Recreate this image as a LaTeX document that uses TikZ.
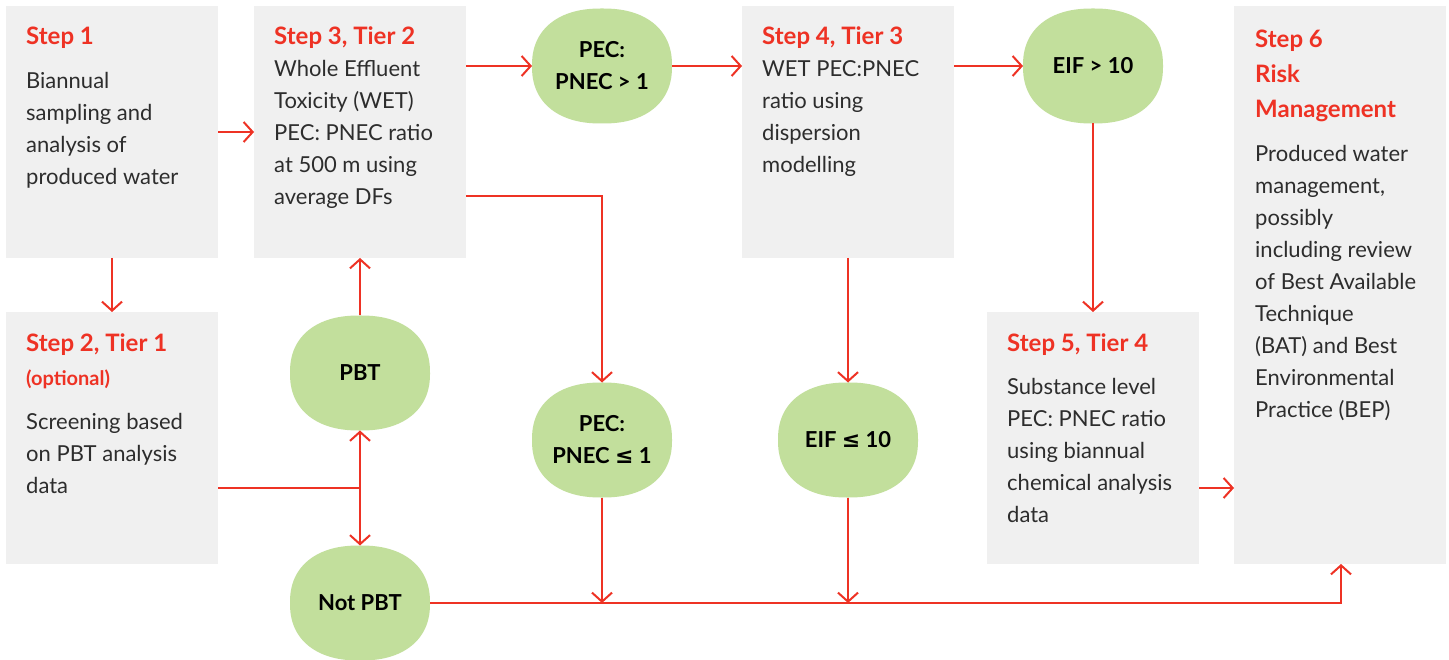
\documentclass[tikz,border=0pt]{standalone}
\usepackage{fontspec}
\setmainfont{Lato}
\newfontfamily\symf{DejaVu Sans}
\usetikzlibrary{arrows.meta}
\definecolor{rd}{RGB}{238,50,36}
\definecolor{boxg}{RGB}{240,240,240}
\definecolor{grn}{RGB}{194,223,156}
\definecolor{txt}{RGB}{45,45,45}
\newcommand{\stt}[1]{{\color{rd}\fontsize{24}{32}\selectfont\bfseries #1}}
\newcommand{\ovalnode}[4]{%
  \fill[grn, shift={(#2,#3)}] plot[domain=0.5:360.5, samples=145, smooth cycle]
    ({(cos(\x)<0 ? -70 : 70)*pow(abs(cos(\x)),0.87)}, {(sin(\x)<0 ? -57.5 : 57.5)*pow(abs(sin(\x)),0.87)});
  \node[oval] (#1) at (#2,#3) {#4};}
\begin{document}
\begin{tikzpicture}[x=1pt,y=-1pt,
  stepbox/.style={fill=boxg, draw=none, minimum width=212pt, minimum height=252pt, inner sep=0pt, outer sep=0pt},
  oval/.style={draw=none, minimum width=140pt, minimum height=115pt, inner sep=0pt, outer sep=0pt,
    align=center, font=\fontsize{22}{32}\selectfont\bfseries, text=black},
  body/.style={anchor=north west, inner sep=0pt, align=left, text=txt, font=\fontsize{22}{32}\selectfont},
  conn/.style={draw=rd, line width=2pt, -{Straight Barb[length=9pt,width=20pt]}},
  plainline/.style={draw=rd, line width=2pt}
]
\fill[white] (0,0) rectangle (1449,660);
\useasboundingbox (0,0) rectangle (1449,660);

% boxes
\node[stepbox] (s1) at (112,132) {};
\node[stepbox] (s2) at (112,438) {};
\node[stepbox] (s3) at (360,132) {};
\node[stepbox] (s4) at (848,132) {};
\node[stepbox] (s5) at (1093,438) {};
\node[stepbox, minimum height=558pt] (s6) at (1340,285) {};

% texts
\node[body] (t1) at (26,27) {\stt{Step 1}\\[12pt] Biannual\\ sampling and\\ analysis of\\ produced water};
\node[body] (t2) at (26,334) {\stt{Step 2, Tier 1}\\[2pt] {\color{rd}\fontsize{20}{22}\selectfont\bfseries (optional)}\\[12pt] Screening based\\ on PBT analysis\\ data};
\node[body] (t3) at (274,27) {\stt{Step 3, Tier 2}\\ Whole Effluent\\ Toxicity (WET)\\ PEC: PNEC ratio\\ at 500 m using\\ average DFs};
\node[body] (t4) at (762,27) {\stt{Step 4, Tier 3}\\ WET PEC:PNEC\\ ratio using\\ dispersion\\ modelling};
\node[body] (t5) at (1007,334) {\stt{Step 5, Tier 4}\\[11pt] Substance level\\ PEC: PNEC ratio\\ using biannual\\ chemical analysis\\ data};
\node[body] (t6) at (1255,30) {\stt{Step 6}\\[3pt] \stt{Risk}\\[3pt] \stt{Management}\\[12pt] Produced water\\ management,\\ possibly\\ including review\\ of Best Available\\ Technique\\ (BAT) and Best\\ Environmental\\ Practice (BEP)};

% ovals
\ovalnode{p1}{602}{66}{PEC:\\ PNEC > 1}
\ovalnode{p2}{602}{440}{PEC:\\ PNEC {\symf\bfseries ≤} 1}
\ovalnode{pbt}{360}{373}{PBT}
\ovalnode{npbt}{360}{603}{Not PBT}
\ovalnode{e1}{1093}{66}{EIF > 10}
\ovalnode{e2}{848}{440}{EIF {\symf\bfseries ≤} 10}

% connectors
\draw[conn] (s1.south) -- (s2.north);
\draw[conn] (s1.east) -- (s3.west);
\draw[conn] (s3.east |- p1.west) -- (p1.west);
\draw[conn] (p1.east) -- (s4.west |- p1.east);
\draw[conn] (s4.east |- e1.west) -- (e1.west);
\draw[conn] (e1.south) -- (s5.north);
\coordinate (s3o) at ([yshift=-64pt]s3.east);
\draw[conn] (s3o) -| (p2.north);
\draw[conn] (s4.south) -- (e2.north);
\coordinate (s2o) at ([yshift=-50pt]s2.east);
\coordinate (jn) at (pbt.south |- s2o);
\draw[plainline] (s2o) -- (jn);
\draw[conn] (jn) -- (pbt.south);
\draw[conn] (jn) -- (npbt.north);
\draw[conn] (pbt.north) -- (s3.south);
\coordinate (s6in) at ([xshift=1pt]s6.south);
\draw[conn] (npbt.east) -| (s6in);
\coordinate (p2j) at (p2.south |- npbt.east);
\coordinate (e2j) at (e2.south |- npbt.east);
\draw[conn] (p2.south) -- (p2j);
\draw[conn] (e2.south) -- (e2j);
\coordinate (s5o) at ([yshift=-50pt]s5.east);
\draw[conn] (s5o) -- (s6.west |- s5o);
\end{tikzpicture}
\end{document}
